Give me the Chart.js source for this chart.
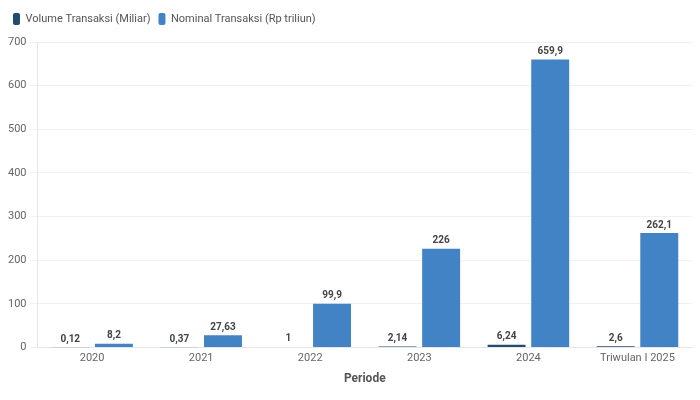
<!DOCTYPE html>
<html>
<head>
<meta charset="utf-8">
<script src="https://cdn.jsdelivr.net/npm/chart.js@4/dist/chart.umd.min.js"></script>
<style>
    html, body { margin: 0; padding: 0; background: #fff; }
    #wrap { width: 700px; height: 400px; }
</style>
</head>
<body>
<div id="wrap"><canvas id="transaksi"></canvas></div>
<script>
const periode = ['2020', '2021', '2022', '2023', '2024', 'Triwulan I 2025'];
const volumeMiliar = [0.12, 0.37, 1, 2.14, 6.24, 2.6];
const nominalTriliun = [8.2, 27.63, 99.9, 226, 659.9, 262.1];
const yTicks = [0, 100, 200, 300, 400, 500, 600, 700];

// label angka di atas batang
const barLabels = {
    id: 'barLabels',
    afterDatasetsDraw(chart) {
        const ctx = chart.ctx;
        ctx.save();
        ctx.font = 'bold 10px Roboto';
        ctx.fillStyle = '#444';
        ctx.textAlign = 'center';
        ctx.textBaseline = 'bottom';
        chart.data.datasets.forEach((ds, i) => {
            chart.getDatasetMeta(i).data.forEach((bar, j) => {
                const txt = String(ds.data[j]).replace('.', ',');
                ctx.fillText(txt, bar.x, bar.y - 3);
            });
        });
        ctx.restore();
    }
};

// jarak ekstra di bawah legend
const legendGap = {
    id: 'legendGap',
    beforeInit(chart) {
        const fit = chart.legend.fit;
        chart.legend.fit = function () {
            fit.bind(chart.legend)();
            this.height += 7;
        };
    }
};

document.addEventListener('DOMContentLoaded', function () {
    const ctx = document.getElementById('transaksi').getContext('2d');

    new Chart(ctx, {
        type: 'bar',
        data: {
            labels: periode,
            datasets: [{
                label: 'Volume Transaksi (Miliar)',
                data: volumeMiliar,
                backgroundColor: '#234b6e',
                categoryPercentage: 0.8,
                barPercentage: 0.87
            }, {
                label: 'Nominal Transaksi (Rp triliun)',
                data: nominalTriliun,
                backgroundColor: '#4283c5',
                categoryPercentage: 0.8,
                barPercentage: 0.87
            }]
        },
        options: {
            responsive: true,
            maintainAspectRatio: false,
            animation: false,
            layout: { padding: { top: 5, right: 8, left: 5, bottom: 10 } },
            plugins: {
                legend: {
                    position: 'top',
                    align: 'start',
                    labels: {
                        boxWidth: 7,
                        boxHeight: 12,
                        useBorderRadius: true,
                        borderRadius: 2,
                        padding: 8,
                        color: '#555',
                        font: { family: 'Roboto', size: 11 }
                    }
                },
                tooltip: { enabled: false }
            },
            scales: {
                x: {
                    grid: { display: false, drawTicks: false },
                    border: { color: '#e6e6e6' },
                    ticks: { padding: 4, color: '#666', font: { family: 'Roboto', size: 11 } },
                    title: {
                        display: true,
                        text: 'Periode',
                        color: '#555',
                        padding: { top: 3, bottom: 4 },
                        font: { family: 'Roboto', size: 12, weight: 'bold' }
                    }
                },
                y: {
                    min: 0,
                    max: yTicks[yTicks.length - 1],
                    afterBuildTicks: axis => { axis.ticks = yTicks.map(v => ({ value: v })); },
                    grid: { color: '#f0f0f0' },
                    border: { color: '#e6e6e6' },
                    ticks: { color: '#666', font: { family: 'Roboto', size: 11 } }
                }
            }
        },
        plugins: [barLabels, legendGap]
    });
});
</script>
</body>
</html>
